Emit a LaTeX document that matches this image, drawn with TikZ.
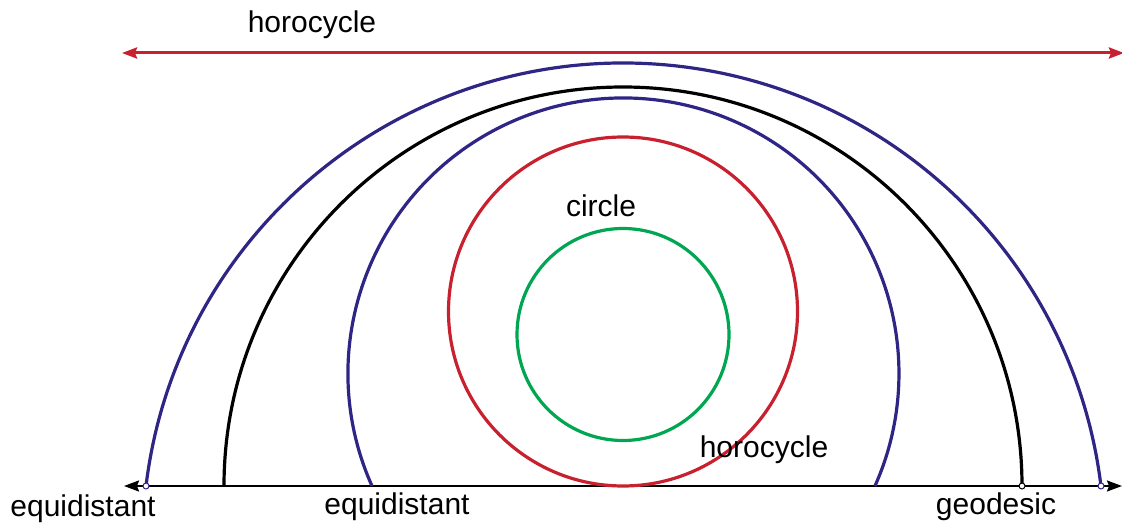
\documentclass[tikz,border=0pt]{standalone}
\usepackage{fontspec}
\setmainfont{Liberation Sans}
\usetikzlibrary{arrows.meta}
\definecolor{hred}{RGB}{200,32,46}
\definecolor{hblue}{RGB}{46,37,133}
\definecolor{hgreen}{RGB}{0,166,81}
\begin{document}
\begin{tikzpicture}[x=1pt,y=1pt,
  curve/.style={line width=3.2pt},
  lbl/.style={font=\fontsize{30}{35}\selectfont, anchor=base, inner sep=0pt},
  opendot/.style={circle, fill=white, draw, line width=1pt, minimum size=6pt, inner sep=0pt}]
\useasboundingbox (0,0) rectangle (1122,528);
% axis
\coordinate (axL) at (124,42);
\coordinate (axR) at (1122,42);
\draw[line width=2pt, {Stealth[length=15pt,width=11pt,inset=2pt]}-{Stealth[length=15pt,width=11pt,inset=2pt]}] (axL) -- (axR);
% top horocycle line
\coordinate (hL) at (122,475);
\coordinate (hR) at (1124,475);
\draw[hred, line width=3pt, {Stealth[length=15pt,width=11pt,inset=2pt]}-{Stealth[length=15pt,width=11pt,inset=2pt]}] (hL) -- (hR);
% outer equidistant
\coordinate (eoL) at (146,42);
\draw[hblue, curve] (eoL) arc[start angle=173.07, end angle=6.93, radius=481];
\coordinate (eoR) at (1101,42);
% geodesic
\coordinate (gL) at (224,42);
\draw[black, curve] (gL) arc[start angle=180, end angle=0, radius=399];
\coordinate (gR) at (1022,42);
% inner equidistant
\coordinate (eiL) at (372,42);
\draw[hblue, curve] (eiL) arc[start angle=204.1, end angle=-24.1, radius=275.5];
% horocycle circle
\node[draw=hred, circle, curve, minimum size=349pt, inner sep=0pt] (horo) at (623,216.5) {};
% circle
\node[draw=hgreen, circle, curve, minimum size=212pt, inner sep=0pt] (circ) at (623,193.5) {};
% open dots
\node[opendot, draw=hblue] (d1) at (eoL) {};
\node[opendot, draw=black] (d2) at (gR) {};
\node[opendot, draw=hblue] (d3) at (eoR) {};
% labels
\node[lbl] (t1) at (312,495) {horocycle};
\node[lbl] (t2) at (601,311) {circle};
\node[lbl] (t3) at (764,71) {horocycle};
\node[lbl] (t4) at (83,12) {equidistant};
\node[lbl] (t5) at (397,14) {equidistant};
\node[lbl] (t6) at (996,14) {geodesic};
\end{tikzpicture}
\end{document}
